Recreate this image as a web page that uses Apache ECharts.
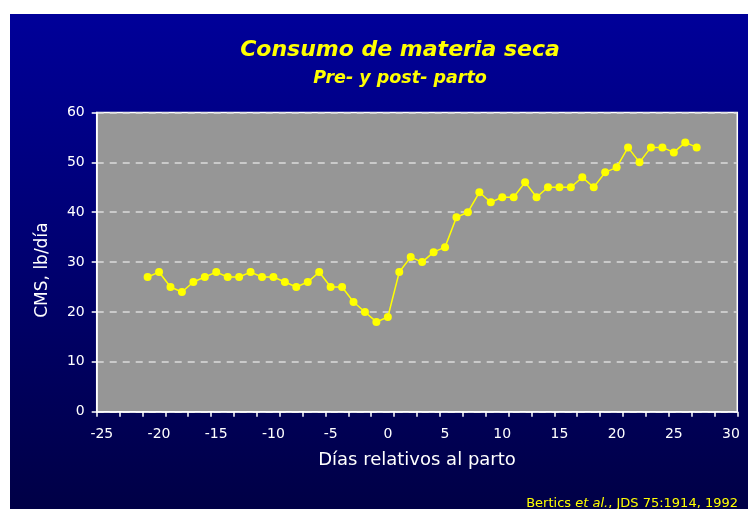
<!DOCTYPE html>
<html lang="es">
<head>
    <meta charset="UTF-8">
    <title>Consumo de materia seca</title>
    <script src="https://cdn.jsdelivr.net/npm/echarts@6/dist/echarts.min.js"></script>
    <style>
        html, body { margin: 0; padding: 0; background: #ffffff; }
        #chart { width: 748px; height: 509px; }
    </style>
</head>
<body>
<div id="chart"></div>

<script>
    // dias relativos al parto
    const days = [-21, -20, -19, -18, -17, -16, -15, -14, -13, -12, -11, -10, -9, -8, -7, -6, -5, -4, -3, -2, -1,
        0, 1, 2, 3, 4, 5, 6, 7, 8, 9, 10, 11, 12, 13, 14, 15, 16, 17, 18, 19, 20, 21, 22, 23, 24, 25, 26, 27];
    // CMS, lb/dia
    const cms = [27, 28, 25, 24, 26, 27, 28, 27, 27, 28, 27, 27, 26, 25, 26, 28, 25, 25, 22, 20, 18,
        19, 28, 31, 30, 32, 33, 39, 40, 44, 42, 43, 43, 46, 43, 45, 45, 45, 47, 45, 48, 49, 53, 50, 53, 53, 52, 54, 53];
    const xLabels = [-25, -20, -15, -10, -5, 0, 5, 10, 15, 20, 25, 30];
    const yLabels = [0, 10, 20, 30, 40, 50, 60];

    const X_MIN = -25.45, X_MAX = 30.55;
    // las marcas del eje x van cada 2 dias desde el minimo (como en el original)
    const xTicks = [];
    for (let k = 0; k <= 28; k++) xTicks.push(X_MIN + k * 2);

    const FONT = 'DejaVu Sans';
    const chart = echarts.init(document.getElementById('chart'));
    const option = {
        animation: false,
        backgroundColor: '#ffffff',
        graphic: [
            {
                type: 'rect', z: -10, silent: true,
                shape: { x: 10, y: 14, width: 738, height: 495 },
                style: {
                    fill: new echarts.graphic.LinearGradient(0, 0, 0, 1, [
                        { offset: 0, color: '#000099' },
                        { offset: 1, color: '#000046' }
                    ])
                }
            },
            {
                type: 'text', right: 10, top: 497,
                style: {
                    text: '{a|Bertics }{b|et al.}{a|, JDS 75:1914, 1992}',
                    rich: {
                        a: { fontFamily: FONT, fontSize: 13, fill: '#ffff00' },
                        b: { fontFamily: FONT, fontSize: 13, fontStyle: 'italic', fill: '#ffff00' }
                    }
                }
            }
        ],
        title: [
            {
                text: 'Consumo de materia seca',
                left: 400, top: 39, textAlign: 'center', padding: 0,
                textStyle: { fontFamily: FONT, fontSize: 22, fontStyle: 'italic', fontWeight: 'bold', color: '#ffff00' }
            },
            {
                text: 'Pre- y post- parto',
                left: 400, top: 69, textAlign: 'center', padding: 0,
                textStyle: { fontFamily: FONT, fontSize: 17.5, fontStyle: 'italic', fontWeight: 'bold', color: '#ffff00' }
            }
        ],
        grid: {
            left: 96.7, right: 10.7, top: 112.5, bottom: 97.3,
            show: true, backgroundColor: '#969696', borderColor: '#ffffff', borderWidth: 1.5
        },
        xAxis: {
            type: 'value',
            min: X_MIN, max: X_MAX,
            name: 'Días relativos al parto',
            nameLocation: 'middle', nameGap: 40,
            nameTextStyle: { fontFamily: FONT, fontSize: 18, color: '#ffffff' },
            axisLine: { onZero: false, lineStyle: { color: '#ffffff', width: 1.5 } },
            axisTick: { show: true, length: 5, customValues: xTicks, lineStyle: { color: '#ffffff', width: 1.5 } },
            axisLabel: { customValues: xLabels, margin: 16, fontFamily: FONT, fontSize: 14, color: '#ffffff' },
            splitLine: { show: false }
        },
        yAxis: {
            type: 'value',
            min: 0, max: 60, interval: 10,
            name: 'CMS, lb/día',
            nameLocation: 'middle', nameGap: 46,
            nameTextStyle: { fontFamily: FONT, fontSize: 17, color: '#ffffff', padding: [0, 16, 0, 0] },
            axisLine: { show: true, onZero: false, lineStyle: { color: '#ffffff', width: 1.5 } },
            axisTick: { show: true, length: 5, lineStyle: { color: '#ffffff', width: 1.5 } },
            axisLabel: { customValues: yLabels, margin: 12, fontFamily: FONT, fontSize: 14, color: '#ffffff' },
            splitLine: { show: true, lineStyle: { color: '#dcdcdc', width: 1.5, type: [7, 6] } }
        },
        series: [
            {
                name: 'CMS',
                type: 'line',
                data: days.map((d, i) => [d, cms[i]]),
                symbol: 'circle',
                symbolSize: 8,
                lineStyle: { color: '#ffff00', width: 1.5 },
                itemStyle: { color: '#ffff00' }
            }
        ]
    };
    chart.setOption(option);
</script>
</body>
</html>
